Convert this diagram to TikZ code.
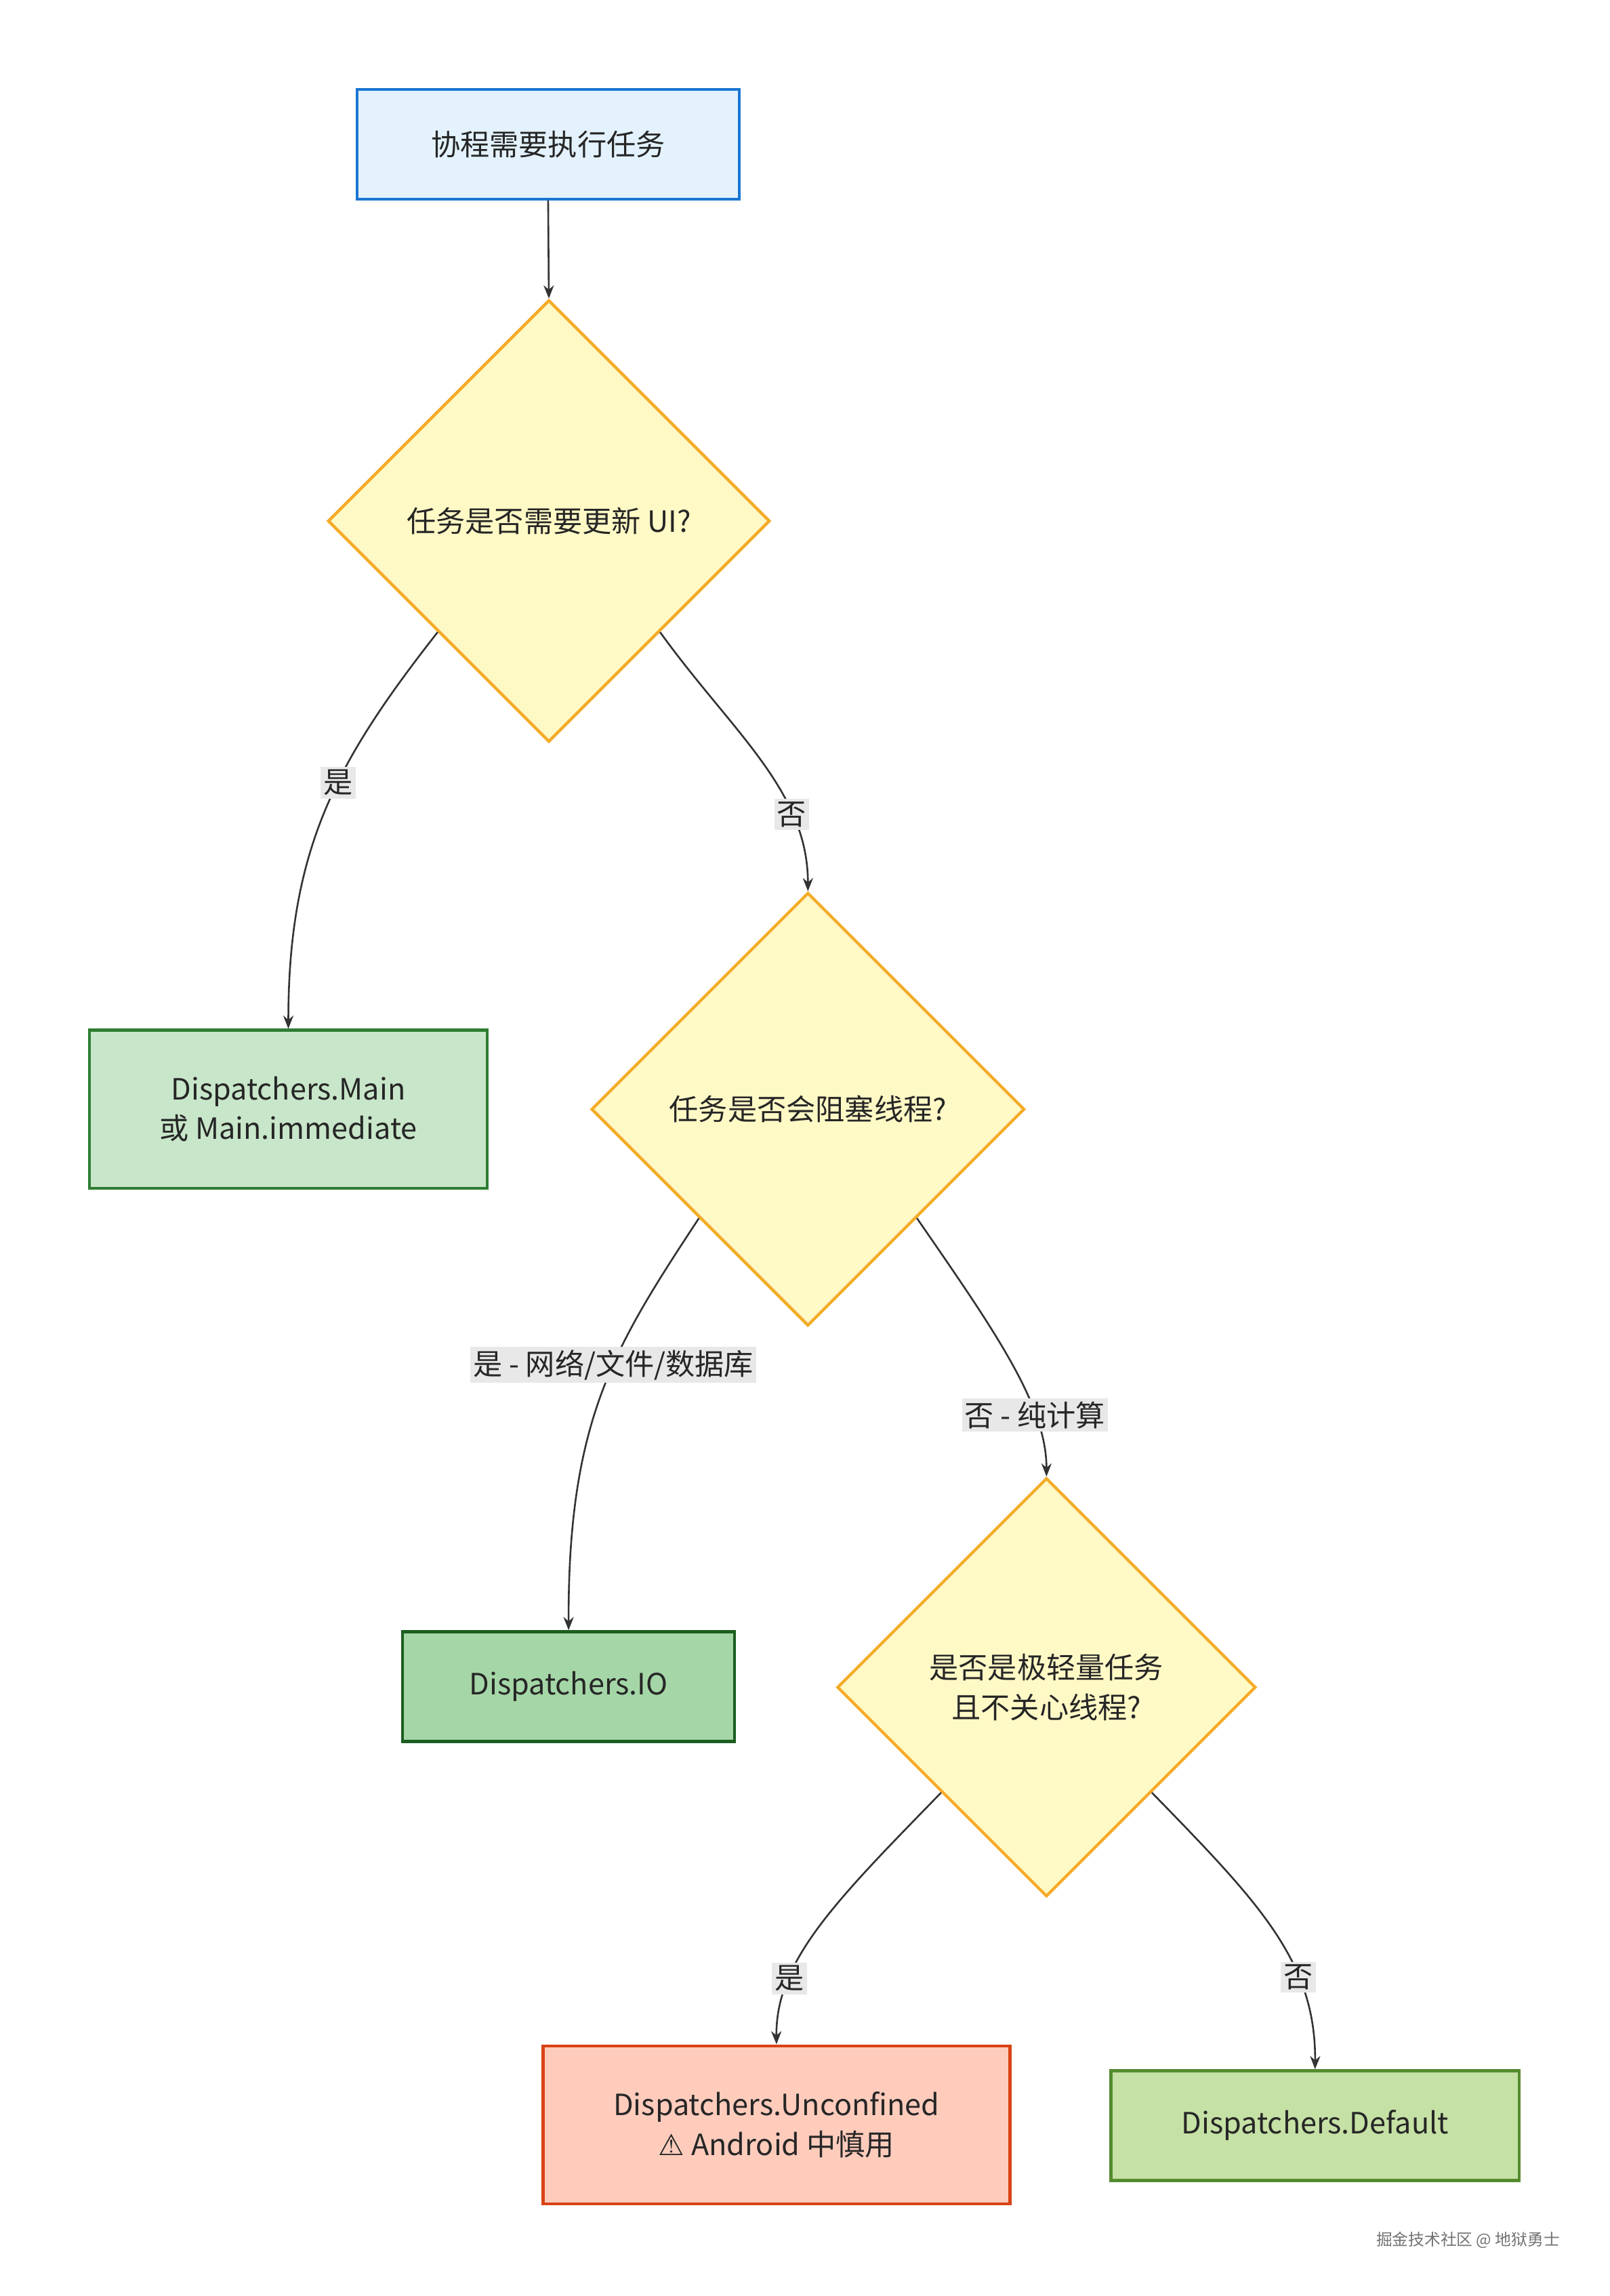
\documentclass[tikz,border=0pt]{standalone}
\usepackage{fontspec}
\setmainfont{Noto Sans CJK SC}
\usetikzlibrary{shapes.geometric,arrows.meta}
\definecolor{lblbg}{HTML}{E8E8E8}
\definecolor{ln}{HTML}{333333}
\begin{document}
\begin{tikzpicture}[x=1pt,y=-1pt,
  every node/.style={font=\fontsize{20}{27}\selectfont, text=black!85, align=center},
  box/.style={draw, line width=2pt, inner sep=0pt},
  dia/.style={diamond, aspect=1, draw=#1, fill=#1!0, line width=2pt, inner sep=0pt, minimum size=302pt},
  arr/.style={draw=ln, line width=1.2pt, -{Stealth[length=9pt,width=7pt]}},
  lbl/.style={fill=lblbg, inner sep=2pt}]
\useasboundingbox (0,0) rectangle (1100,1569);
\fill[white] (0,0) rectangle (1100,1569);
\node[box, draw={rgb,255:red,25;green,118;blue,210}, fill={rgb,255:red,227;green,242;blue,253}, minimum width=261pt, minimum height=75pt] (start) at (374.5,98.5) {协程需要执行任务};
\node[diamond, aspect=1, draw={rgb,255:red,245;green,171;blue,40}, fill={rgb,255:red,255;green,249;blue,198}, line width=2pt, inner sep=0pt, minimum size=302pt] (d1) at (375,356) {任务是否需要更新 UI?};
\node[box, draw={rgb,255:red,46;green,125;blue,50}, fill={rgb,255:red,200;green,230;blue,201}, minimum width=272pt, minimum height=108pt] (main) at (197,758) {Dispatchers.Main\\或 Main.immediate};
\node[diamond, aspect=1, draw={rgb,255:red,245;green,171;blue,40}, fill={rgb,255:red,255;green,249;blue,198}, line width=2pt, inner sep=0pt, minimum size=296pt] (d2) at (552,758) {任务是否会阻塞线程?};
\node[box, draw={rgb,255:red,27;green,94;blue,32}, fill={rgb,255:red,165;green,214;blue,167}, minimum width=227pt, minimum height=75pt] (io) at (388.5,1152.5) {Dispatchers.IO};
\node[diamond, aspect=1, draw={rgb,255:red,245;green,171;blue,40}, fill={rgb,255:red,255;green,249;blue,198}, line width=2pt, inner sep=0pt, minimum size=286pt] (d3) at (715,1153) {是否是极轻量任务\\且不关心线程?};
\node[box, draw={rgb,255:red,216;green,67;blue,21}, fill={rgb,255:red,255;green,204;blue,188}, minimum width=319pt, minimum height=108pt] (unc) at (530.5,1452) {Dispatchers.Unconfined\\{\fontspec{DejaVu Sans}⚠} Android 中慎用};
\node[box, draw={rgb,255:red,85;green,139;blue,47}, fill={rgb,255:red,197;green,225;blue,165}, minimum width=279pt, minimum height=75pt] (def) at (898.5,1452.5) {Dispatchers.Default};
\node[font=\fontsize{11}{13}\selectfont, text=black!55] (wm) at (1003,1531) {掘金技术社区 @ 地狱勇士};

\draw[arr] (start.south) -- (d1.north);
\draw[arr] (d1.south west) .. controls (230,520) and (197,580) .. (main.north) node[lbl, pos=0.42] {是};
\draw[arr] (d1.south east) .. controls (500,500) and (552,540) .. (d2.north) node[lbl, pos=0.72] {否};
\draw[arr] (d2.south west) .. controls (420,920) and (388,970) .. (io.north) node[lbl, pos=0.42] {是 - 网络/文件/数据库};
\draw[arr] (d2.south east) .. controls (680,910) and (715,960) .. (d3.north) node[lbl, pos=0.72] {否 - 纯计算};
\draw[arr] (d3.south west) .. controls (570,1300) and (530,1340) .. (unc.north) node[lbl, pos=0.72] {是};
\draw[arr] (d3.south east) .. controls (860,1300) and (899,1340) .. (def.north) node[lbl, pos=0.68] {否};
\end{tikzpicture}
\end{document}
